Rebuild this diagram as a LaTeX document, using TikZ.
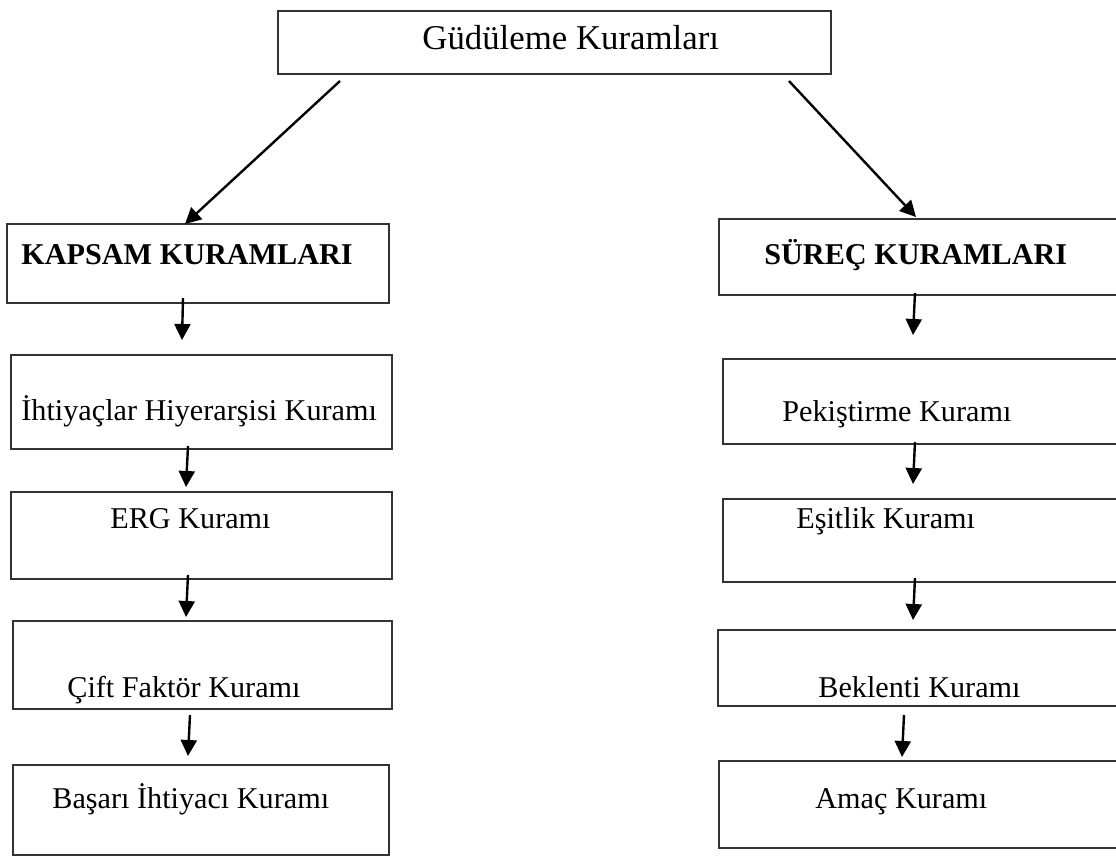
\documentclass[tikz,border=0pt]{standalone}
\usepackage{fontspec}
\setmainfont{Liberation Serif}
\usepackage{xcolor}
\usepackage{tikz}
\usetikzlibrary{calc,arrows.meta}
\definecolor{frame}{HTML}{333333}
\definecolor{ink}{HTML}{000000}
\tikzset{
  box/.style={draw=frame, line width=0.9pt, inner sep=0pt, outer sep=0pt},
  wh/.style 2 args={minimum width=#1*0.5pt, minimum height=#2*0.5pt},
  lab/.style={text=ink, inner sep=0pt, anchor=base west, font=\fontsize{15.1}{18}\selectfont},
  labb/.style={lab, font=\fontsize{15.1}{18}\selectfont\bfseries},
  labt/.style={lab, font=\fontsize{17.4}{21}\selectfont},
  arr/.style={draw=ink, line width=1.2pt, -{Triangle[length=8pt,width=8pt]}},
}

\begin{document}
\begin{tikzpicture}[x=0.5pt, y=-0.5pt]
  \clip (0,0) rectangle (1116,856);
  % boxes
  \node[box, wh={553}{63}] (top) at (554.5,42.5) {};
  \node[box, wh={382}{79}] (kapsam) at (198,263.5) {};
  \node[box, wh={381}{94}] (ihtiyac) at (201.5,402) {};
  \node[box, wh={381}{87}] (erg) at (201.5,535.5) {};
  \node[box, wh={379}{88}] (cift) at (202.5,665) {};
  \node[box, wh={376}{90}] (basari) at (201,810) {};
  \node[box, wh={406}{76}] (surec) at (922,257) {};
  \node[box, wh={402}{85}] (pekis) at (924,401.5) {};
  \node[box, wh={402}{83}] (esit) at (924,540.5) {};
  \node[box, wh={407}{76}] (beklenti) at (921.5,668) {};
  \node[box, wh={406}{87}] (amac) at (922,804.5) {};
  % texts
  \node[labt] (topT) at (422,50) {Güdüleme Kuramları};
  \node[labb] (kapsamT) at (21,265) {KAPSAM KURAMLARI};
  \node[labb] (surecT) at (764,265) {SÜREÇ KURAMLARI};
  \node[lab] (ihtiyacT) at (21,421) {İhtiyaçlar Hiyerarşisi Kuramı};
  \node[lab] (ergT) at (110,529) {ERG Kuramı};
  \node[lab] (ciftT) at (67,697) {Çift Faktör Kuramı};
  \node[lab] (basariT) at (52,808) {Başarı İhtiyacı Kuramı};
  \node[lab] (pekisT) at (782,422) {Pekiştirme Kuramı};
  \node[lab] (esitT) at (796,529) {Eşitlik Kuramı};
  \node[lab] (beklentiT) at (818,697) {Beklenti Kuramı};
  \node[lab] (amacT) at (815,808) {Amaç Kuramı};
  % arrows
  \draw[arr] ($(top.south west)+(62,7)$) -- ($(kapsam.north)+(-13,0)$);
  \draw[arr] ($(top.south east)+(-42,7)$) -- ($(surec.north)+(-6,-2)$);
  \draw[arr] ($(kapsam.south)+(-15,-5)$) -- ($(ihtiyac.north)+(-19.5,-15)$);
  \draw[arr] ($(ihtiyac.south)+(-13.5,-3)$) -- ($(erg.north)+(-15.5,-5)$);
  \draw[arr] ($(erg.south)+(-13.5,-4)$) -- ($(cift.north)+(-16.5,-4)$);
  \draw[arr] ($(cift.south)+(-12.5,6)$) -- ($(basari.north)+(-13,-9)$);
  \draw[arr] ($(surec.south)+(-7,-2)$) -- ($(pekis.north)+(-11,-24)$);
  \draw[arr] ($(pekis.south)+(-9,-2)$) -- ($(esit.north)+(-11,-15)$);
  \draw[arr] ($(esit.south)+(-9,-4)$) -- ($(beklenti.north)+(-8.5,-10)$);
  \draw[arr] ($(beklenti.south)+(-17.5,9)$) -- ($(amac.north)+(-20,-4)$);
\end{tikzpicture}
\end{document}
